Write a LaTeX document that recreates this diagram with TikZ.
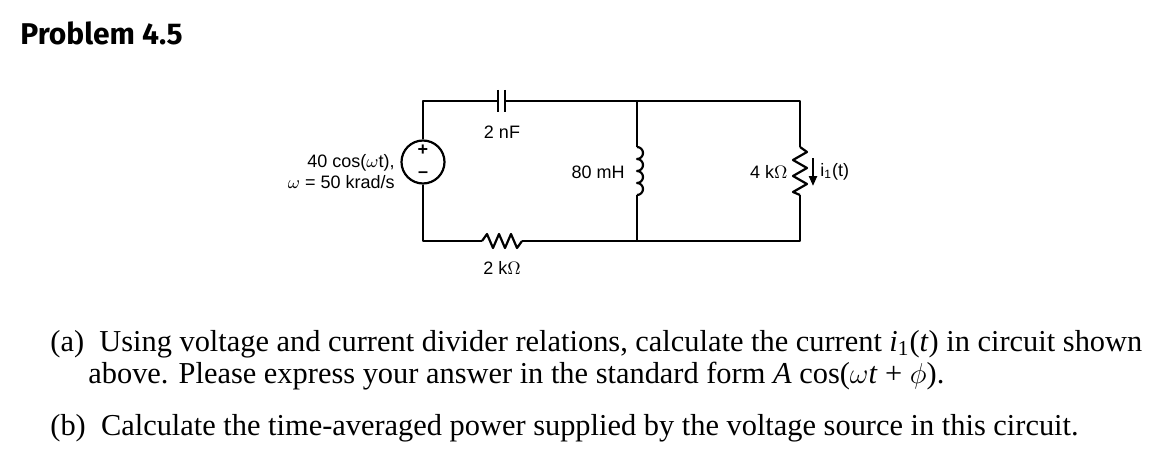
\documentclass[tikz,border=0pt]{standalone}
\usepackage{fontspec}
\setmainfont{Liberation Serif}
\newfontfamily\circfont{Liberation Sans}
\newfontfamily\headfont{Fira Sans}
\usetikzlibrary{arrows.meta}
\tikzset{
  wire/.style={line width=1.1pt, line join=round},
  lbl/.style={font=\circfont\fontsize{9}{10.5}\selectfont, inner sep=1pt},
  body/.style={font=\fontsize{15.2}{14}\selectfont, anchor=north west, inner sep=0pt, align=left}
}
\begin{document}
\begin{tikzpicture}[x=0.5pt,y=-0.5pt]
  \useasboundingbox (0,0) rectangle (1156,476);
  \node[font=\headfont\bfseries\fontsize{15}{17}\selectfont, anchor=west, inner sep=0pt] (title) at (20,33) {Problem 4.5};

  % corners and parts
  \coordinate (tl) at (423,101);
  \coordinate (bl) at (423,241);
  \coordinate (tm) at (637,101);
  \coordinate (bm) at (637,241);
  \coordinate (tr) at (800,101);
  \coordinate (br) at (800,241);
  \node[draw, circle, line width=1.1pt, minimum size=21.5pt, inner sep=0pt] (src) at (423,162) {};
  \node[font=\circfont\bfseries\fontsize{9}{9}\selectfont, inner sep=0pt] (plus) at (423,150) {+};
  \node[font=\circfont\bfseries\fontsize{9}{9}\selectfont, inner sep=0pt] (minus) at (423,175) {\textendash};
  \coordinate (ca) at (498,101);
  \coordinate (cb) at (505,101);
  \coordinate (ra) at (482,241);
  \coordinate (rb) at (522,241);
  \coordinate (la) at (637,147);
  \coordinate (lb) at (637,195);
  \coordinate (qa) at (800,147);
  \coordinate (qb) at (800,195);

  \draw[wire] (src.north) -- (tl) -- (ca);
  \draw[wire] (ca) ++(0,-11) -- ++(0,22);
  \draw[wire] (cb) ++(0,-11) -- ++(0,22);
  \draw[wire] (cb) -- (tm) -- (tr) -- (qa);
  \draw[wire] (src.south) -- (bl) -- (ra);
  \draw[wire] (ra) -- ++(5,-7) -- ++(6,14) -- ++(6,-14) -- ++(6,14) -- ++(6,-14) -- ++(6,14) -- (rb);
  \draw[wire] (rb) -- (bm) -- (br) -- (qb);
  \draw[wire] (qa) -- ++(7,5) -- ++(-14,8) -- ++(14,8) -- ++(-14,8) -- ++(14,8) -- ++(-14,8) -- (qb);
  \draw[wire] (tm) -- (la);
  \draw[wire] (la) arc (-90:90:6) arc (-90:90:6) arc (-90:90:6) arc (-90:90:6);
  \draw[wire] (lb) -- (bm);

  % labels
  \node[lbl] (capl) at (502,132) {2 nF};
  \node[lbl] (resl) at (502,268) {2 k$\Omega$};
  \node[lbl, anchor=east] (indl) at (627,172) {80 mH};
  \node[lbl, anchor=east] (rl) at (790,172) {4 k$\Omega$};
  \node[lbl, anchor=east, align=right] (srcl) at (397,172) {40 cos($\omega$t),\\$\omega$ = 50 krad/s};
  \coordinate (ia) at (813,158);
  \coordinate (ib) at (813,186);
  \draw[line width=1.1pt, -{Triangle[length=5pt,width=4pt]}] (ia) -- (ib);
  \node[lbl, anchor=west] (il) at (818,172) {i\textsubscript{1}(t)};

  % text
  \node[body] (parta) at (50,330) {(a)\enspace Using voltage and current divider relations, calculate the current \textit{i}\textsubscript{1}(\textit{t}) in circuit shown};
  \node[body] (parta2) at (88,362) {above. Please express your answer in the standard form \textit{A} cos($\omega$\textit{t} + $\phi$).};
  \node[body] (partb) at (50,414) {(b)\enspace Calculate the time-averaged power supplied by the voltage source in this circuit.};
\end{tikzpicture}
\end{document}
